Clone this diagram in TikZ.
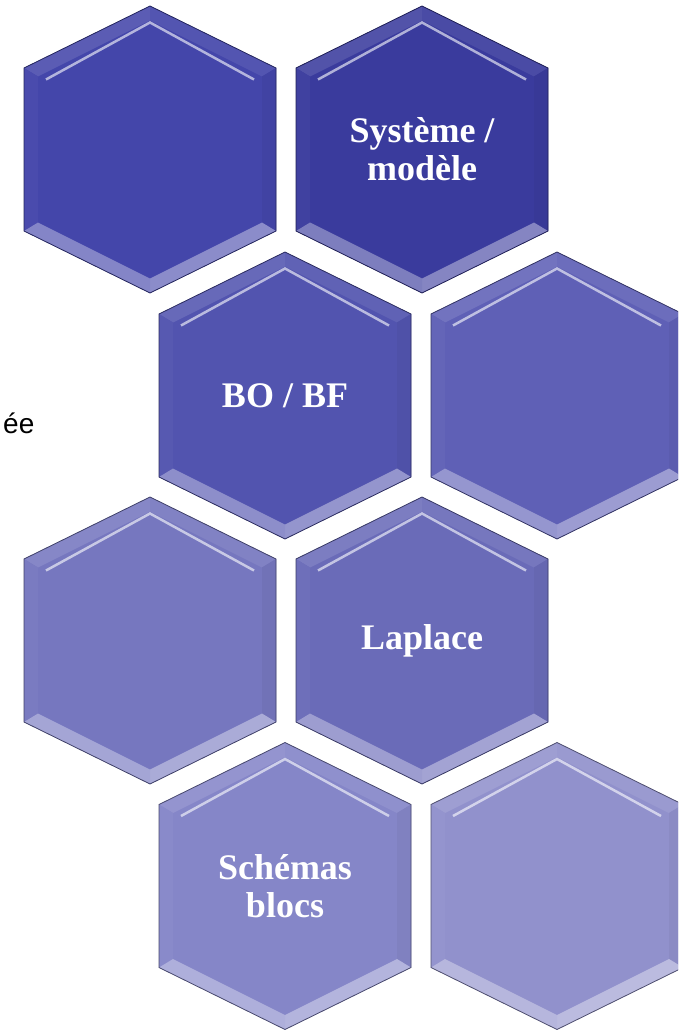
\documentclass[tikz,border=0pt]{standalone}
\usepackage{fontspec}
\setmainfont{Liberation Serif}
\newfontfamily\sidefont{Liberation Sans}
\usetikzlibrary{positioning}

\definecolor{hexA}{HTML}{4446AA}
\definecolor{hexB}{HTML}{3A3B9D}
\definecolor{hexC}{HTML}{5254AF}
\definecolor{hexD}{HTML}{5F60B6}
\definecolor{hexE}{HTML}{7677BF}
\definecolor{hexF}{HTML}{6A6BB8}
\definecolor{hexG}{HTML}{8586C8}
\definecolor{hexH}{HTML}{9191CC}

\tikzset{
    hexlabel/.style={text=white, font=\bfseries\fontsize{36}{38}\selectfont, align=center},
    sidetext/.style={font=\sidefont\fontsize{28}{32}\selectfont, inner sep=0pt, anchor=base west}
}

% one bevelled hexagon: centre, colour
\newcommand{\hexa}[2]{%
  \begin{scope}[shift={#1}]
    \fill[#2] (0,-143.5) -- (126,-81.5) -- (126,81.5) -- (0,143.5) -- (-126,81.5) -- (-126,-81.5) -- cycle;
    \fill[#2!88!white] (-126,-81.5) -- (0,-143.5) -- (0,-129) -- (-112,-73) -- cycle;
    \fill[#2!92!white] (0,-143.5) -- (126,-81.5) -- (112,-73) -- (0,-129) -- cycle;
    \fill[#2!96!black] (126,-81.5) -- (126,81.5) -- (112,73) -- (112,-73) -- cycle;
    \fill[#2!97!white] (-126,-81.5) -- (-126,81.5) -- (-112,73) -- (-112,-73) -- cycle;
    \fill[#2!62!white] (126,81.5) -- (0,143.5) -- (0,129) -- (112,73) -- cycle;
    \fill[#2!66!white] (0,143.5) -- (-126,81.5) -- (-112,73) -- (0,129) -- cycle;
    \draw[#2!40!white, line width=2.5pt] (-104,-70) -- (0,-127) -- (104,-70);
    \draw[#2!55!black, line width=0.8pt] (0,-143.5) -- (126,-81.5) -- (126,81.5) -- (0,143.5) -- (-126,81.5) -- (-126,-81.5) -- cycle;
  \end{scope}}

\begin{document}
\begin{tikzpicture}[x=1pt, y=-1pt]
    \useasboundingbox (0,0) rectangle (678,1030);
    \clip (0,0) rectangle (678,1030);

    \coordinate (h1) at (150,149.5);
    \coordinate (h2) at (422,149.5);
    \coordinate (h3) at (285,395.5);
    \coordinate (h4) at (557,395.5);
    \coordinate (h5) at (150,640.5);
    \coordinate (h6) at (422,640.5);
    \coordinate (h7) at (285,886);
    \coordinate (h8) at (557,886);

    \hexa{(h1)}{hexA}
    \hexa{(h2)}{hexB}
    \hexa{(h3)}{hexC}
    \hexa{(h4)}{hexD}
    \hexa{(h5)}{hexE}
    \hexa{(h6)}{hexF}
    \hexa{(h7)}{hexG}
    \hexa{(h8)}{hexH}

    \node[hexlabel] (sys) at (h2) {Système /\\modèle};
    \node[hexlabel] (bo) at (h3) {BO / BF};
    \node[hexlabel] (lap) at (h6) {Laplace};
    \node[hexlabel] (sch) at (h7) {Schémas\\blocs};
    \node[sidetext] (cut) at (3,433) {ée};
\end{tikzpicture}
\end{document}
